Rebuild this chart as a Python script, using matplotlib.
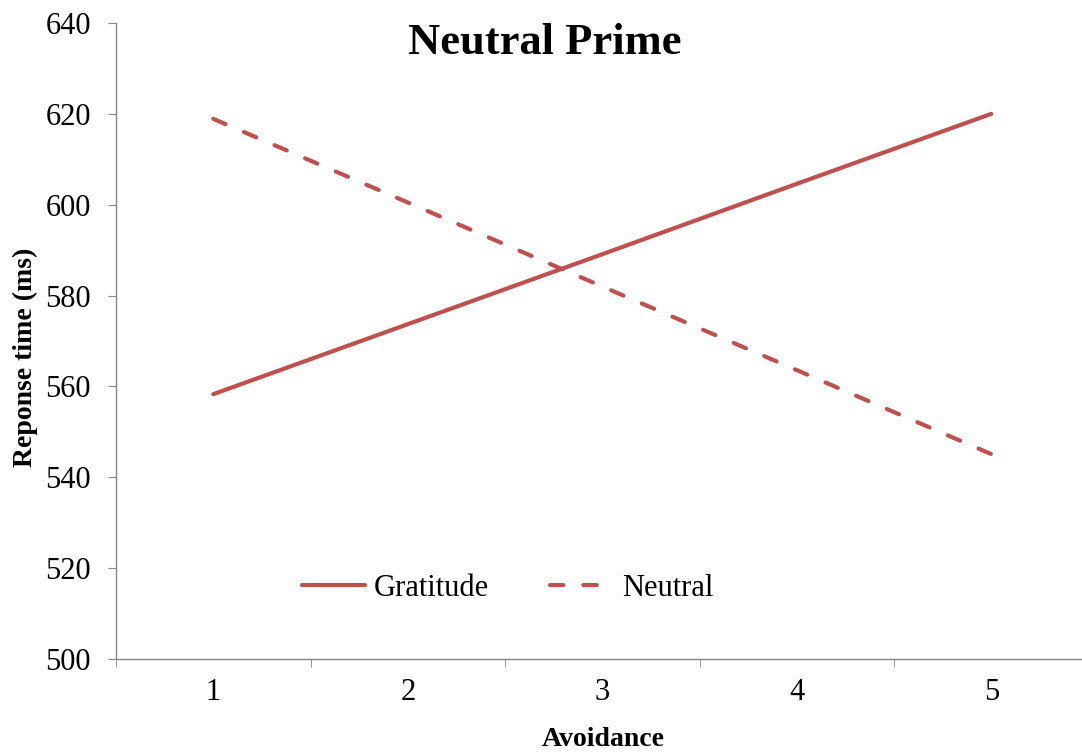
import matplotlib
matplotlib.use("Agg")
import matplotlib.pyplot as plt

plt.rcParams['font.family'] = ['Liberation Serif', 'DejaVu Serif']

avoidance = [1, 2, 3, 4, 5]
gratitude = [558.3, 573.7, 589.1, 604.6, 620.0]
neutral = [618.9, 600.5, 582.0, 563.6, 545.1]
yticks = [500, 520, 540, 560, 580, 600, 620, 640]

red = '#C0504D'
grey = '#868686'

fig = plt.figure(figsize=(10.82, 7.55), dpi=100)
ax = fig.add_axes([116 / 1082, 96 / 755, 1 - 116 / 1082, (659 - 23) / 755])

ax.plot(avoidance, gratitude, color=red, lw=3, solid_capstyle='round', label='Gratitude')
ax.plot(avoidance, neutral, color=red, lw=3, linestyle=(0, (3.2, 4.8)),
        dash_capstyle='round', label='Neutral')

ax.set_yticks(yticks)
ax.set_xticks(avoidance)
ax.set_xticks([0.5, 1.5, 2.5, 3.5, 4.5, 5.5], minor=True)
ax.set_xlim(0.5, 0.5 + (1082 - 116) / 194.5)
ax.set_ylim(500, 640)

for s in ['top', 'right']:
    ax.spines[s].set_visible(False)
for s in ['left', 'bottom']:
    ax.spines[s].set_color(grey)
    ax.spines[s].set_linewidth(1)

ax.tick_params(axis='y', direction='out', length=6, color=grey, labelsize=22, pad=12)
ax.tick_params(axis='x', which='major', length=0, labelsize=22, pad=14)
ax.tick_params(axis='x', which='minor', direction='out', length=6, color=grey)

fig.text(545 / 1082, 1 - 43 / 755, 'Neutral Prime', ha='center', va='center',
         fontsize=32, fontweight='bold')
fig.text(25 / 1082, 1 - 357 / 755, 'Reponse time (ms)', ha='center', va='center',
         rotation=90, fontsize=20, fontweight='bold')
fig.text(603 / 1082, 1 - 740 / 755, 'Avoidance', ha='center', va='center',
         fontsize=20, fontweight='bold')

ax.legend(loc='center', bbox_to_anchor=(508 / 1082, 1 - 588 / 755),
          bbox_transform=fig.transFigure, ncol=2, frameon=False, fontsize=22,
          handlelength=2.05, handletextpad=0.3, columnspacing=2.0)

fig.savefig('out.png', dpi=100)
